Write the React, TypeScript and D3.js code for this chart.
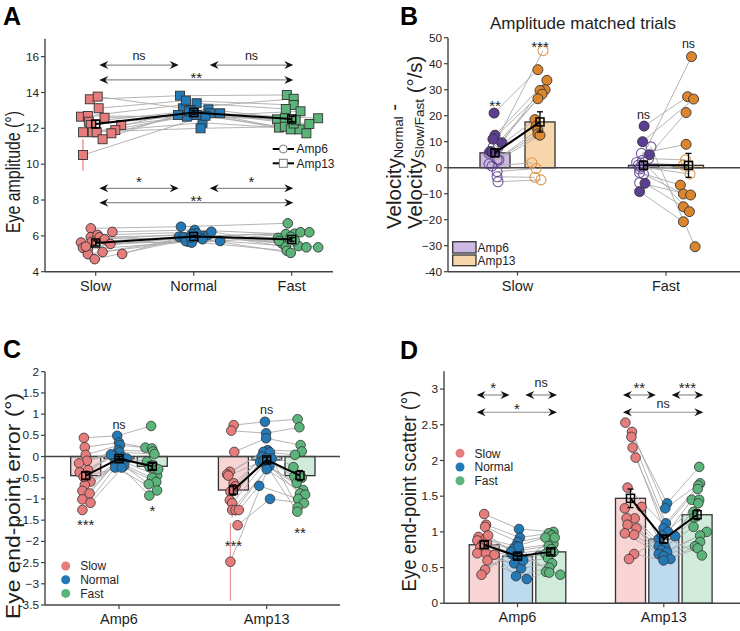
import React from "react";
import * as d3 from "d3";

const FONT = "'Liberation Sans', Arial, Helvetica, sans-serif";
const INK = "#1e1e1e";
const AXIS = "#444";
const PAIR = "#ababab";
const EDGE = "#333";

const speeds = ["Slow", "Normal", "Fast"];
const amps = ["Amp6", "Amp13"];

const dotFill: Record<string, string> = { Slow: "#e77c7d", Normal: "#2379b6", Fast: "#5bb57b" };
const barFill: Record<string, string> = { Slow: "#f8d5d4", Normal: "#bddaef", Fast: "#d1ebdb" };
const ampDot: Record<string, string> = { Amp6: "#5c3f91", Amp13: "#dc852f" };
const ampBar: Record<string, string> = { Amp6: "#cdb9e2", Amp13: "#f8d6ac" };

// ---------------- Panel A: eye amplitude ----------------
const ticksA = [4, 6, 8, 10, 12, 14, 16];
const a13Slow = [13.62, 13.77, 13.12, 12.65, 12.69, 12.59, 12.37, 12.19, 12.19, 11.9, 11.78, 11.78, 11.78, 11.72, 11.39, 10.51];
const a13SlowJit = [-0.06, 0.02, 0.03, -0.15, -0.08, 0.09, -0.07, -0.05, 0.26, 0.2, -0.13, -0.03, 0.01, 0.16, 0.07, -0.13];
const a13SlowSd = [0, 0, 0, 0, 0, 0, 0, 0, 0, 0, 0, 0, 0, 0, 0, 0.88];
const a13Normal = [13.82, 13.12, 13.55, 13.4, 12.65, 12.74, 13.06, 12.84, 12.84, 12.31, 12.0, 13.02, 12.74, 12.9, 12.95, 12.7];
const a13NormalJit = [-0.14, -0.11, -0.08, 0.03, -0.07, -0.16, 0.15, 0.17, 0.27, 0.09, 0.07, -0.03, 0.03, 0, -0.05, 0.12];
const a13Fast = [13.86, 13.65, 13.3, 13.08, 12.95, 12.5, 12.56, 12.56, 12.24, 12.04, 12.09, 11.94, 11.94, 11.72, 12.27, 12.45];
const a13FastJit = [-0.05, 0.02, 0.02, -0.06, 0.09, -0.15, -0.07, 0.27, 0.18, -0.13, -0.07, -0.01, 0.08, 0.15, 0.02, 0.04];
const a6Slow = [6.42, 6.22, 5.63, 5.33, 5.25, 4.98, 4.7, 5.93, 6.05, 5.92, 5.81, 5.55, 5.1, 4.99, 5.67, 5.4];
const a6SlowJit = [-0.05, 0.17, -0.15, -0.13, -0.08, -0.08, -0.01, -0.05, 0.02, 0.04, 0.09, 0.15, 0.07, 0.27, -0.04, -0.1];
const a6Normal = [6.51, 6.33, 5.95, 5.92, 5.67, 5.95, 5.99, 6.05, 6.23, 5.71, 6.14, 5.7, 5.81, 6.1, 5.62, 5.9];
const a6NormalJit = [-0.13, 0.01, -0.15, -0.1, -0.05, 0.05, 0.1, 0.15, 0.18, 0.27, 0.03, -0.08, 0.09, -0.02, -0.02, -0.03];
const a6Fast = [6.7, 6.1, 6.12, 6.2, 6.2, 5.88, 5.58, 5.4, 5.43, 5.36, 5.36, 5.17, 5.05, 5.72, 5.95, 5.75];
const a6FastJit = [-0.04, -0.06, 0.03, 0.09, 0.18, -0.14, -0.1, -0.06, 0.07, 0.15, 0.27, -0.05, -0.01, -0.13, -0.01, 0.03];
const a13Mean = [12.24, 12.88, 12.52];
const a13Sem = [0.2, 0.1, 0.14];
const a6Mean = [5.6, 5.97, 5.8];
const a6Sem = [0.12, 0.05, 0.1];
const sigA = [
  { from: "Slow", to: "Normal", y: 15.53, label: "ns", ly: 15.98 },
  { from: "Normal", to: "Fast", y: 15.53, label: "ns", ly: 15.98 },
  { from: "Slow", to: "Fast", y: 14.7, label: "**", ly: 15.03 },
  { from: "Slow", to: "Normal", y: 8.65, label: "*", ly: 9.23 },
  { from: "Normal", to: "Fast", y: 8.65, label: "*", ly: 9.23 },
  { from: "Slow", to: "Fast", y: 7.85, label: "**", ly: 8.19 },
];

// ---------------- Panel B: velocity difference ----------------
const ticksB = [-40, -30, -20, -10, 0, 10, 20, 30, 40, 50];
const bSlow6 = [21.0, 8.0, 12.5, 11.0, 9.6, 6.2, 6.0, 7.8, 5.5, 3.2, 1.4, 0.6, -1.5, -3.5, -5.4, 3.0];
const bSlow6Sig = [1, 0, 1, 1, 1, 1, 1, 0, 0, 0, 0, 0, 0, 0, 0, 0];
const bSlow6Jit = [-0.03, -0.06, 0, -0.07, 0.23, -0.17, -0.1, 0.1, -0.2, 0.07, -0.2, -0.1, 0.07, 0.07, 0.1, 0.13];
const bSlow13 = [37.7, 45, 33.6, 30.0, 29.7, 28.3, 26.5, 18.5, 16.0, 14.5, 13.0, 1.9, -0.3, -3.7, -4.7, 12.5];
const bSlow13Sig = [1, 0, 1, 1, 1, 1, 1, 1, 1, 1, 1, 0, 0, 0, 0, 1];
const bSlow13Jit = [-0.07, 0.1, 0.23, 0.17, 0, 0.07, -0.07, -0.17, -0.13, -0.07, -0.07, -0.27, -0.13, -0.17, 0.03, 0];
const bFast6 = [16, 10, 5.0, 1.0, 8, 5.5, 3.5, 2.0, 0.3, -0.5, -1.9, -2.5, -5.8, -6, -9.2, 2.8];
const bFast6Sig = [1, 1, 1, 0, 0, 0, 0, 0, 0, 0, 0, 0, 0, 1, 1, 0];
const bFast6Jit = [0.02, -0.03, 0.2, -0.17, 0.25, -0.07, 0.17, -0.23, -0.1, -0.13, -0.13, 0, -0.13, 0.05, -0.13, -0.03];
const bFast13 = [27.3, 26.4, 21.2, 42.7, -30.4, 9, 3, 1, -2.4, 0.5, -6.7, -10.1, -10.5, -15, -20.8, -16.9];
const bFast13Sig = [1, 1, 1, 1, 1, 1, 0, 0, 0, 0, 1, 1, 1, 1, 1, 1];
const bFast13Jit = [-0.03, 0.17, -0.08, 0.1, 0.22, -0.08, -0.1, -0.17, 0.05, 0, -0.27, -0.17, 0.07, -0.17, -0.17, 0.03];
const bMean6 = [5.7, 0.9];
const bSem6 = [1.4, 1.7];
const bMean13 = [17.6, 0.9];
const bSem13 = [3.9, 4.6];
const sigB = [
  { speed: "Slow", amp: "Amp6", label: "**", ly: 25.4 },
  { speed: "Slow", amp: "Amp13", label: "***", ly: 48.1 },
  { speed: "Fast", amp: "Amp6", label: "ns", ly: 19.9 },
  { speed: "Fast", amp: "Amp13", label: "ns", ly: 47.2 },
];

// ---------------- Panel C: end-point error ----------------
const ticksC = [-3.5, -3, -2.5, -2, -1.5, -1, -0.5, 0, 0.5, 1, 1.5, 2];
const c6Slow = [0.44, 0.22, 0.04, -0.1, -0.16, -0.37, -0.32, -0.59, -0.67, -0.81, -0.87, -1.01, -1.09, -1.26, -0.45, -0.48];
const c6SlowJit = [-0.06, -0.03, 0, 0.04, -0.22, -0.2, 0.08, 0.16, -0.03, -0.11, 0.13, -0.11, 0.16, -0.11, 0.02, -0.07];
const c6Normal = [0.49, 0.33, 0.27, 0.15, 0.1, 0.02, 0, -0.02, -0.05, -0.1, -0.12, -0.15, -0.22, -0.26, -0.26, 0.05];
const c6NormalJit = [-0.06, 0, 0.03, -0.02, 0.01, -0.17, -0.19, 0.12, 0.27, 0.07, -0.08, -0.13, 0.17, -0.13, 0.09, -0.27];
const c6Fast = [0.72, 0.21, 0.19, 0.12, 0.06, -0.12, -0.2, -0.25, -0.33, -0.45, -0.5, -0.6, -0.65, -0.8, -0.92, -0.3];
const c6FastJit = [-0.04, -0.23, -0.01, 0.02, 0.07, -0.18, 0.02, -0.09, 0.1, 0.16, -0.01, 0.13, -0.12, 0.16, -0.1, 0.2];
const c13Slow = [0.74, 0.61, 0.11, -0.36, -0.42, -0.63, -0.7, -0.83, -1.03, -1.1, -1.26, -1.26, -1.26, -1.62, -2.48, -0.45];
const c13SlowJit = [0.01, -0.07, 0.03, -0.12, -0.21, 0.01, 0.07, -0.1, -0.12, -0.04, -0.04, 0.07, 0.18, 0.14, -0.1, -0.17];
const c13SlowSd = [0, 0, 0, 0.12, 0.12, 0, 0.1, 0, 0.15, 0, 0.18, 0.15, 0.12, 0.1, 0.92, 0];
const c13Normal = [0.82, 0.55, 0.43, 0.15, 0.11, 0.1, 0, -0.04, -0.13, -0.15, -0.23, -0.3, -0.69, -1.0, -0.05, -0.1];
const c13NormalJit = [-0.06, -0.02, -0.02, 0.03, -0.11, 0.11, -0.17, 0, -0.22, -0.06, 0.09, 0, -0.25, 0.11, 0.17, -0.11];
const c13Fast = [0.88, 0.69, 0.27, 0.12, 0.04, -0.25, -0.47, -0.5, -0.62, -0.79, -0.87, -0.9, -1.0, -1.1, -1.2, -1.3];
const c13FastJit = [-0.08, -0.02, 0.02, 0.06, -0.17, -0.22, -0.19, 0.06, -0.11, 0.11, 0, 0.17, -0.06, 0.13, -0.08, -0.09];
const c6Mean = [-0.45, -0.05, -0.23];
const c6Sem = [0.08, 0.05, 0.07];
const c13Mean = [-0.79, -0.08, -0.45];
const c13Sem = [0.12, 0.06, 0.12];
const sigC = [
  { amp: "Amp6", speed: "Slow", label: "***", ly: -1.52 },
  { amp: "Amp6", speed: "Normal", label: "ns", ly: 0.74 },
  { amp: "Amp6", speed: "Fast", label: "*", ly: -1.18 },
  { amp: "Amp13", speed: "Slow", label: "***", ly: -2.01 },
  { amp: "Amp13", speed: "Normal", label: "ns", ly: 1.08 },
  { amp: "Amp13", speed: "Fast", label: "**", ly: -1.72 },
];

// ---------------- Panel D: end-point scatter ----------------
const ticksD = [0, 0.5, 1, 1.5, 2, 2.5, 3];
const d6Slow = [1.25, 1.1, 1.07, 0.93, 0.9, 0.88, 0.85, 0.82, 0.78, 0.7, 0.7, 0.68, 0.6, 0.47, 0.4, 0.95];
const d6SlowJit = [0, 0.06, 0.03, -0.19, 0.03, -0.23, 0.09, -0.07, -0.13, -0.23, 0.06, 0.34, 0.11, 0.03, -0.09, 0.13];
const d6Normal = [1.04, 0.92, 0.86, 0.8, 0.76, 0.74, 0.69, 0.65, 0.62, 0.56, 0.49, 0.38, 0.34, 0.79, 0.72, 0.6];
const d6NormalJit = [0.05, 0.08, 0.01, -0.06, -0.14, 0.05, -0.19, -0.03, 0.14, -0.11, 0.12, -0.05, 0.31, 0.03, -0.22, 0.19];
const d6Fast = [1.0, 0.98, 0.95, 0.92, 0.83, 0.8, 0.76, 0.72, 0.69, 0.63, 0.56, 0.5, 0.44, 0.43, 0.4, 0.92];
const d6FastJit = [0.09, -0.07, 0.04, -0.18, 0.09, -0.07, 0.02, 0.09, -0.18, -0.09, 0.04, -0.05, -0.16, -0.05, 0.32, 0.13];
const d13Slow = [2.53, 2.4, 2.33, 2.18, 2.04, 1.62, 1.35, 1.33, 1.19, 1.19, 1.1, 1.05, 0.98, 0.96, 0.69, 0.62];
const d13SlowJit = [-0.17, 0.05, 0.03, 0.07, 0.17, -0.1, 0.37, -0.19, 0.14, -0.13, -0.1, 0.2, -0.19, 0.12, 0.12, -0.05];
const d13Normal = [1.4, 1.33, 1.12, 1.05, 1.0, 0.94, 0.9, 0.8, 0.78, 0.75, 0.72, 0.69, 0.66, 0.62, 0.6, 0.95];
const d13NormalJit = [0.11, 0.05, 0.07, -0.01, 0.14, 0.38, -0.17, -0.17, 0.05, -0.08, 0.11, -0.17, -0.01, 0.22, -0.01, -0.06];
const d13Fast = [1.91, 1.68, 1.65, 1.6, 1.45, 1.45, 1.4, 1.28, 1.2, 1.07, 1.0, 0.95, 0.86, 0.8, 0.77, 0.67];
const d13FastJit = [0.07, 0.1, 0.04, 0.02, -0.18, 0.07, 0.04, -0.12, -0.09, -0.12, 0.32, 0.1, 0.1, -0.07, 0.02, 0.16];
const d6Mean = [0.82, 0.66, 0.72];
const d6Sem = [0.05, 0.04, 0.04];
const d13Mean = [1.47, 0.9, 1.24];
const d13Sem = [0.13, 0.05, 0.07];
const sigD = [
  { amp: "Amp6", from: "Slow", to: "Normal", y: 2.917, label: "*", ly: 3.07 },
  { amp: "Amp6", from: "Normal", to: "Fast", y: 2.917, label: "ns", ly: 3.07 },
  { amp: "Amp6", from: "Slow", to: "Fast", y: 2.675, label: "*", ly: 2.78 },
  { amp: "Amp13", from: "Slow", to: "Normal", y: 2.917, label: "**", ly: 3.07 },
  { amp: "Amp13", from: "Normal", to: "Fast", y: 2.917, label: "***", ly: 3.07 },
  { amp: "Amp13", from: "Slow", to: "Fast", y: 2.675, label: "ns", ly: 2.78 },
];

// ---------------- helpers ----------------
const fmtTick = (t: number, last: boolean) => {
  const s = String(Math.abs(t));
  if (t >= 0) return s;
  return (last ? "-" : "\u2212") + s;
};

function SigText({ label, x, yc }: { label: string; x: number; yc: number }) {
  const star = label.includes("*");
  const fs = star ? 15 : 12.5;
  return (
    <text x={x} y={yc + (star ? 0.6 : 0.27) * fs} textAnchor="middle" fontSize={fs} fill={INK}>
      {label}
    </text>
  );
}

function DoubleArrow({ x1, x2, y }: { x1: number; x2: number; y: number }) {
  const head = (x: number, d: number) =>
    `M${x},${y} L${x - 9 * d},${y - 4} L${x - 6 * d},${y} L${x - 9 * d},${y + 4} Z`;
  return (
    <g>
      <line x1={x1 + 5} x2={x2 - 5} y1={y} y2={y} stroke="#8e8e8e" strokeWidth={1.2} />
      <path d={head(x1, -1)} fill="#111" />
      <path d={head(x2, 1)} fill="#111" />
    </g>
  );
}

function YAxis({ scale, x, ticks, top, bottom }: any) {
  return (
    <g>
      <line x1={x} x2={x} y1={top} y2={bottom} stroke={AXIS} strokeWidth={1.4} />
      {ticks.map((t: number, i: number) => (
        <g key={i}>
          <line x1={x - 4} x2={x} y1={scale(t)} y2={scale(t)} stroke={AXIS} strokeWidth={1.2} />
          <text x={x - 6} y={scale(t) + 4.1} textAnchor="end" fontSize={11.8} fill={INK}>
            {fmtTick(t, i === 0)}
          </text>
        </g>
      ))}
    </g>
  );
}

function XAxis({ y, x0, x1, cats, pos }: any) {
  return (
    <g>
      <line x1={x0} x2={x1} y1={y} y2={y} stroke={AXIS} strokeWidth={1.4} />
      {cats.map((c: string) => (
        <g key={c}>
          <line x1={pos(c)} x2={pos(c)} y1={y} y2={y + 4} stroke={AXIS} strokeWidth={1.2} />
          <text x={pos(c)} y={y + 19} textAnchor="middle" fontSize={14.5} fill={INK}>
            {c}
          </text>
        </g>
      ))}
    </g>
  );
}

function MeanMark({ cx, cy, lo, hi }: { cx: number; cy: number; lo: number; hi: number }) {
  return (
    <g>
      <line x1={cx} x2={cx} y1={lo} y2={hi} stroke="#000" strokeWidth={1.3} />
      <line x1={cx - 3} x2={cx + 3} y1={lo} y2={lo} stroke="#000" strokeWidth={1.3} />
      <line x1={cx - 3} x2={cx + 3} y1={hi} y2={hi} stroke="#000" strokeWidth={1.3} />
      <rect x={cx - 4} y={cy - 4} width={8} height={8} fill="none" stroke="#000" strokeWidth={1.5} />
    </g>
  );
}

function PanelLabel({ x, y, t }: { x: number; y: number; t: string }) {
  return (
    <text x={x} y={y} fontSize={25} fontWeight="bold" fill="#000">
      {t}
    </text>
  );
}

function YLabel({ x, y, len, text }: { x: number; y: number; len: number; text: string }) {
  return (
    <text
      transform={`translate(${x},${y}) rotate(-90)`}
      textAnchor="middle"
      fontSize={19.5}
      textLength={len}
      lengthAdjust="spacingAndGlyphs"
      fill={INK}
    >
      {text}
    </text>
  );
}

// ---------------- Panel A ----------------
function PanelA() {
  const x = d3.scalePoint<string>().domain(speeds).range([95.7, 291.7]);
  const y = d3.scaleLinear().domain([4, 17]).range([271.7, 38.7]);
  const step = x.step();
  const arrowEnd: Record<string, [number, number]> = { Slow: [3.6, 3.6], Normal: [16, -15], Fast: [1.6, 1.6] };
  const sets = [
    { amp: "Amp13", vals: [a13Slow, a13Normal, a13Fast], jit: [a13SlowJit, a13NormalJit, a13FastJit], sd: [a13SlowSd, null, null], mean: a13Mean, sem: a13Sem },
    { amp: "Amp6", vals: [a6Slow, a6Normal, a6Fast], jit: [a6SlowJit, a6NormalJit, a6FastJit], sd: [null, null, null], mean: a6Mean, sem: a6Sem },
  ];
  const px = (k: number, j: number) => (x(speeds[k]) as number) + j * step;
  const line = d3.line<[number, number]>();
  return (
    <g>
      <PanelLabel x={3} y={25} t="A" />
      {sets.map((s) => (
        <g key={s.amp}>
          {s.vals[0].map((_, i) => (
            <path
              key={i}
              d={line(s.vals.map((v, k) => [px(k, s.jit[k][i]), y(v[i])]) as any) || ""}
              fill="none"
              stroke={PAIR}
              strokeWidth={0.9}
            />
          ))}
        </g>
      ))}
      {sets.map((s) =>
        s.vals.map((v, k) =>
          v.map((val, i) => {
            const cx = px(k, s.jit[k][i]);
            const cy = y(val);
            const sd = s.sd[k] ? (s.sd[k] as number[])[i] : 0;
            return (
              <g key={`${s.amp}-${k}-${i}`}>
                {sd > 0 && (
                  <line x1={cx} x2={cx} y1={y(val - sd)} y2={y(val + sd)} stroke={dotFill[speeds[k]]} strokeWidth={1.2} />
                )}
                {s.amp === "Amp13" ? (
                  <rect x={cx - 4.5} y={cy - 4.5} width={9} height={9} fill={dotFill[speeds[k]]} stroke={EDGE} strokeWidth={0.9} />
                ) : (
                  <circle cx={cx} cy={cy} r={4.8} fill={dotFill[speeds[k]]} stroke={EDGE} strokeWidth={0.9} />
                )}
              </g>
            );
          })
        )
      )}
      {sets.map((s) => (
        <g key={`m-${s.amp}`}>
          <path
            d={line(s.mean.map((m, k) => [x(speeds[k]) as number, y(m)]) as any) || ""}
            fill="none"
            stroke="#000"
            strokeWidth={2}
          />
          {s.mean.map((m, k) => (
            <MeanMark key={k} cx={x(speeds[k]) as number} cy={y(m)} lo={y(m - s.sem[k])} hi={y(m + s.sem[k])} />
          ))}
        </g>
      ))}
      {sigA.map((a, i) => {
        const x1 = (x(a.from) as number) + arrowEnd[a.from][0];
        const x2 = (x(a.to) as number) + arrowEnd[a.to][1];
        return (
          <g key={i}>
            <DoubleArrow x1={x1} x2={x2} y={y(a.y)} />
            <SigText label={a.label} x={(x1 + x2) / 2} yc={y(a.ly)} />
          </g>
        );
      })}
      {/* legend */}
      <g>
        <line x1={272.7} x2={294} y1={149} y2={149} stroke="#000" strokeWidth={2} />
        <circle cx={283.3} cy={149} r={4} fill="#fff" stroke="#777" strokeWidth={1} />
        <text x={296.5} y={153.2} fontSize={12} fill={INK}>Amp6</text>
        <line x1={272.7} x2={294} y1={163.3} y2={163.3} stroke="#000" strokeWidth={2} />
        <rect x={279.3} y={159.3} width={8} height={8} fill="#fff" stroke="#777" strokeWidth={1} />
        <text x={296.5} y={167.5} fontSize={12} fill={INK}>Amp13</text>
      </g>
      <YAxis scale={y} x={45} ticks={ticksA} top={38.7} bottom={271.7} />
      <XAxis y={271.7} x0={45} x1={333} cats={speeds} pos={(c: string) => x(c)} />
      <YLabel x={20} y={172} len={122} text="Eye amplitude (°)" />
    </g>
  );
}

// ---------------- Panel B ----------------
function PanelB() {
  const bSpeeds = ["Slow", "Fast"];
  const x = d3.scalePoint<string>().domain(bSpeeds).range([517.5, 666]);
  const y = d3.scaleLinear().domain([-40, 50]).range([271.7, 37.7]);
  const off: Record<string, number> = { Amp6: -22.5, Amp13: 22.5 };
  const bw = 30;
  const groups = [
    { speed: "Slow", v6: bSlow6, s6: bSlow6Sig, j6: bSlow6Jit, v13: bSlow13, s13: bSlow13Sig, j13: bSlow13Jit },
    { speed: "Fast", v6: bFast6, s6: bFast6Sig, j6: bFast6Jit, v13: bFast13, s13: bFast13Sig, j13: bFast13Jit },
  ];
  const cx = (sp: string, amp: string) => (x(sp) as number) + off[amp];
  const means: Record<string, number[]> = { Amp6: bMean6, Amp13: bMean13 };
  const sems: Record<string, number[]> = { Amp6: bSem6, Amp13: bSem13 };
  const y0 = y(0);
  return (
    <g>
      <PanelLabel x={400} y={25} t="B" />
      <text x={583} y={29} textAnchor="middle" fontSize={17} fill={INK}>
        Amplitude matched trials
      </text>
      {bSpeeds.map((sp, si) =>
        amps.map((amp) => {
          const m = means[amp][si];
          return (
            <rect
              key={sp + amp}
              x={cx(sp, amp) - bw / 2}
              y={Math.min(y(m), y0)}
              width={bw}
              height={Math.abs(y(m) - y0)}
              fill={ampBar[amp]}
              stroke={EDGE}
              strokeWidth={1.3}
            />
          );
        })
      )}
      <line x1={448} x2={740} y1={y0} y2={y0} stroke={AXIS} strokeWidth={1.4} />
      {groups.map((g) =>
        g.v6.map((v, i) => (
          <line
            key={g.speed + i}
            x1={cx(g.speed, "Amp6") + g.j6[i] * bw}
            x2={cx(g.speed, "Amp13") + g.j13[i] * bw}
            y1={y(v)}
            y2={y(g.v13[i])}
            stroke={PAIR}
            strokeWidth={0.9}
          />
        ))
      )}
      {groups.map((g) =>
        [
          { amp: "Amp6", v: g.v6, s: g.s6, j: g.j6 },
          { amp: "Amp13", v: g.v13, s: g.s13, j: g.j13 },
        ].map((set) =>
          set.v.map((v, i) => (
            <circle
              key={g.speed + set.amp + i}
              cx={cx(g.speed, set.amp) + set.j[i] * bw}
              cy={y(v)}
              r={5}
              fill={set.s[i] ? ampDot[set.amp] : "none"}
              stroke={set.s[i] ? EDGE : ampDot[set.amp]}
              strokeWidth={set.s[i] ? 0.9 : 1.1}
              opacity={set.s[i] ? 1 : 0.85}
            />
          ))
        )
      )}
      {bSpeeds.map((sp, si) => (
        <g key={"m" + sp}>
          <line
            x1={cx(sp, "Amp6")}
            x2={cx(sp, "Amp13")}
            y1={y(bMean6[si])}
            y2={y(bMean13[si])}
            stroke="#000"
            strokeWidth={2}
          />
          {amps.map((amp) => {
            const m = means[amp][si];
            const e = sems[amp][si];
            return <MeanMark key={amp} cx={cx(sp, amp)} cy={y(m)} lo={y(m - e)} hi={y(m + e)} />;
          })}
        </g>
      ))}
      {sigB.map((s, i) => (
        <SigText key={i} label={s.label} x={cx(s.speed, s.amp)} yc={y(s.ly)} />
      ))}
      {/* legend */}
      <rect x={452.7} y={241.7} width={23.3} height={11.3} fill={ampBar.Amp6} stroke={EDGE} strokeWidth={1.3} />
      <text x={477.5} y={251.8} fontSize={12} fill={INK}>Amp6</text>
      <rect x={452.7} y={255} width={23.3} height={10.7} fill={ampBar.Amp13} stroke={EDGE} strokeWidth={1.3} />
      <text x={477.5} y={265} fontSize={12} fill={INK}>Amp13</text>
      <YAxis scale={y} x={448} ticks={ticksB} top={37.7} bottom={271.7} />
      <XAxis y={271.7} x0={448} x1={740} cats={bSpeeds} pos={(c: string) => x(c)} />
      <text transform="translate(401,229) rotate(-90)" fontSize={20.5} fill={INK}>
        Velocity
        <tspan fontSize={13} dy={2}>Normal</tspan>
        <tspan dy={-2}> -</tspan>
      </text>
      <text transform="translate(421.5,229) rotate(-90)" fontSize={20.5} fill={INK}>
        Velocity
        <tspan fontSize={13.5} dy={2}>Slow/Fast</tspan>
        <tspan dy={-2}> (°/s)</tspan>
      </text>
    </g>
  );
}

// ---------------- Panels C and D share a layout ----------------
function GroupedPanel({ x, y, sets, sig, arrows, arrowEnd, xRange, zeroLine }: any) {
  const off: Record<string, number> = { Slow: -33.3, Normal: 0, Fast: 33.3 };
  const bw = 30;
  const cx = (amp: string, sp: string) => (x(amp) as number) + off[sp];
  const line = d3.line<[number, number]>();
  const y0 = y(0);
  return (
    <g>
      {sets.map((s: any) =>
        speeds.map((sp, k) => (
          <rect
            key={s.amp + sp}
            x={cx(s.amp, sp) - bw / 2}
            y={Math.min(y(s.mean[k]), y0)}
            width={bw}
            height={Math.abs(y(s.mean[k]) - y0)}
            fill={barFill[sp]}
            stroke={EDGE}
            strokeWidth={1.3}
          />
        ))
      )}
      {zeroLine && <line x1={xRange[0]} x2={xRange[1]} y1={y0} y2={y0} stroke={AXIS} strokeWidth={1.4} />}
      {sets.map((s: any) =>
        s.vals[0].map((_: number, i: number) => (
          <path
            key={s.amp + i}
            d={line(s.vals.map((v: number[], k: number) => [cx(s.amp, speeds[k]) + s.jit[k][i] * bw, y(v[i])]) as any) || ""}
            fill="none"
            stroke={PAIR}
            strokeWidth={0.9}
          />
        ))
      )}
      {sets.map((s: any) =>
        s.vals.map((v: number[], k: number) =>
          v.map((val, i) => {
            const px = cx(s.amp, speeds[k]) + s.jit[k][i] * bw;
            const sd = s.sd && s.sd[k] ? s.sd[k][i] : 0;
            return (
              <g key={`${s.amp}-${k}-${i}`}>
                {sd > 0 && (
                  <line x1={px} x2={px} y1={y(val - sd)} y2={y(val + sd)} stroke={dotFill[speeds[k]]} strokeWidth={1.2} opacity={0.8} />
                )}
                <circle cx={px} cy={y(val)} r={4.8} fill={dotFill[speeds[k]]} stroke={EDGE} strokeWidth={0.8} />
              </g>
            );
          })
        )
      )}
      {sets.map((s: any) => (
        <g key={"m" + s.amp}>
          <path
            d={line(s.mean.map((m: number, k: number) => [cx(s.amp, speeds[k]), y(m)]) as any) || ""}
            fill="none"
            stroke="#000"
            strokeWidth={2}
          />
          {s.mean.map((m: number, k: number) => (
            <MeanMark key={k} cx={cx(s.amp, speeds[k])} cy={y(m)} lo={y(m - s.sem[k])} hi={y(m + s.sem[k])} />
          ))}
        </g>
      ))}
      {sig &&
        sig.map((a: any, i: number) => <SigText key={i} label={a.label} x={cx(a.amp, a.speed)} yc={y(a.ly)} />)}
      {arrows &&
        arrows.map((a: any, i: number) => {
          const x1 = cx(a.amp, a.from) + arrowEnd[a.from][0];
          const x2 = cx(a.amp, a.to) + arrowEnd[a.to][1];
          return (
            <g key={"ar" + i}>
              <DoubleArrow x1={x1} x2={x2} y={y(a.y)} />
              <SigText label={a.label} x={(x1 + x2) / 2} yc={y(a.ly)} />
            </g>
          );
        })}
    </g>
  );
}

function Legend3({ x, y0, dy }: { x: number; y0: number; dy: number }) {
  return (
    <g>
      {speeds.map((sp, i) => (
        <g key={sp}>
          <circle cx={x} cy={y0 + i * dy} r={4.5} fill={dotFill[sp]} />
          <text x={x + 14.5} y={y0 + i * dy + 4.2} fontSize={12} fill={INK}>
            {sp}
          </text>
        </g>
      ))}
    </g>
  );
}

function PanelC() {
  const x = d3.scalePoint<string>().domain(amps).range([119, 266.7]);
  const y = d3.scaleLinear().domain([-3.5, 2]).range([605, 371.7]);
  const sets = [
    { amp: "Amp6", vals: [c6Slow, c6Normal, c6Fast], jit: [c6SlowJit, c6NormalJit, c6FastJit], mean: c6Mean, sem: c6Sem },
    { amp: "Amp13", vals: [c13Slow, c13Normal, c13Fast], jit: [c13SlowJit, c13NormalJit, c13FastJit], sd: [c13SlowSd, null, null], mean: c13Mean, sem: c13Sem },
  ];
  return (
    <g>
      <PanelLabel x={3} y={358} t="C" />
      <GroupedPanel x={x} y={y} sets={sets} sig={sigC} xRange={[45, 340]} zeroLine />
      <Legend3 x={65.7} y0={566} dy={13.7} />
      <YAxis scale={y} x={45} ticks={ticksC} top={371.7} bottom={605} />
      <XAxis y={605} x0={45} x1={340} cats={amps} pos={(c: string) => x(c)} />
      <YLabel x={20} y={506} len={226} text="Eye end-point error (°)" />
    </g>
  );
}

function PanelD() {
  const x = d3.scalePoint<string>().domain(amps).range([517.5, 663.8]);
  const y = d3.scaleLinear().domain([0, 3.25]).range([603.3, 371.2]);
  const sets = [
    { amp: "Amp6", vals: [d6Slow, d6Normal, d6Fast], jit: [d6SlowJit, d6NormalJit, d6FastJit], mean: d6Mean, sem: d6Sem },
    { amp: "Amp13", vals: [d13Slow, d13Normal, d13Fast], jit: [d13SlowJit, d13NormalJit, d13FastJit], mean: d13Mean, sem: d13Sem },
  ];
  const arrowEnd: Record<string, [number, number]> = { Slow: [-7.6, -7.6], Normal: [7.8, -8], Fast: [6.2, 6.2] };
  return (
    <g>
      <PanelLabel x={400} y={359} t="D" />
      <GroupedPanel x={x} y={y} sets={sets} arrows={sigD} arrowEnd={arrowEnd} />
      <Legend3 x={460} y0={453.3} dy={13.7} />
      <YAxis scale={y} x={444} ticks={ticksD} top={371.2} bottom={603.3} />
      <XAxis y={603.3} x0={444} x1={740} cats={amps} pos={(c: string) => x(c)} />
      <YLabel x={416} y={491} len={201} text="Eye end-point scatter (°)" />
    </g>
  );
}

export default function App() {
  return (
    <svg
      width={740}
      height={631}
      viewBox="0 0 740 631"
      style={{ position: "absolute", left: 0, top: 0, background: "#fff" }}
      fontFamily={FONT}
    >
      <rect width={740} height={631} fill="#fff" />
      <PanelA />
      <PanelB />
      <PanelC />
      <PanelD />
    </svg>
  );
}
